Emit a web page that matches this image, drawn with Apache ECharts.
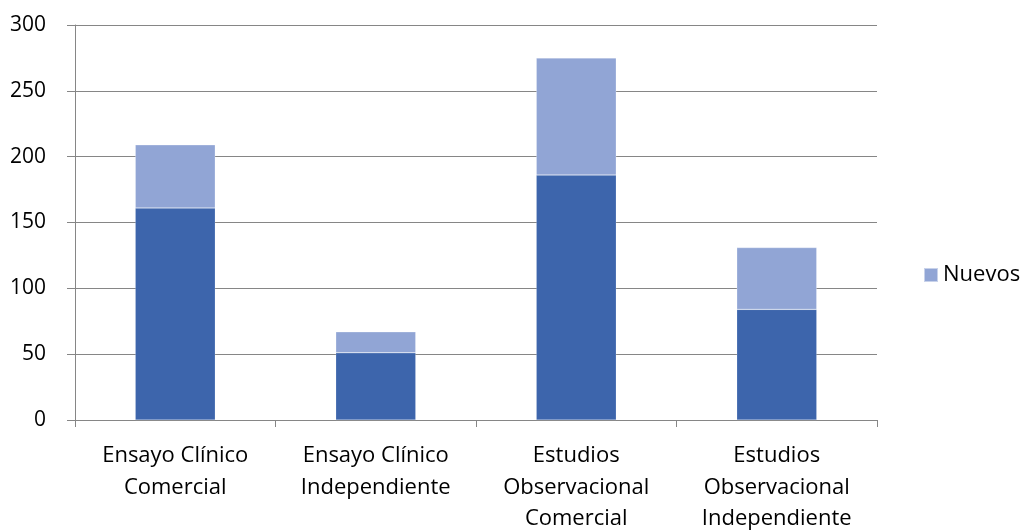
<!DOCTYPE html>
<html><head><meta charset="utf-8">
<script src="https://cdn.jsdelivr.net/npm/echarts@6/dist/echarts.min.js"></script>
<style>html,body{margin:0;padding:0;background:#fff}#c{width:1023px;height:530px}</style>
</head><body><div id="c"></div>
<script>
const categories = ['Ensayo Clínico\nComercial', 'Ensayo Clínico\nIndependiente', 'Estudios\nObservacional\nComercial', 'Estudios\nObservacional\nIndependiente'];
const existentes = [161, 51, 186, 84];
const totales = [209, 67, 275, 131];
const nuevos = totales.map((t, i) => t - existentes[i]);
const yTicks = [0, 50, 100, 150, 200, 250, 300];

const font = '"Open Sans", "Noto Sans", sans-serif';
const chart = echarts.init(document.getElementById('c'));
chart.setOption({
  animation: false,
  grid: { left: 75, right: 146, top: 25, bottom: 110, containLabel: false, outerBoundsMode: 'none' },
  legend: {
    data: ['Nuevos'], orient: 'vertical', left: 918, top: 259,
    itemWidth: 14, itemHeight: 14, itemGap: 6,
    textStyle: { fontFamily: font, fontSize: 22, color: '#000', padding: [0, 0, 0, 0] },
    icon: 'rect'
  },
  xAxis: {
    type: 'category', data: categories,
    axisLine: { lineStyle: { color: '#868686', width: 1 } },
    axisTick: { show: true, length: 7, lineStyle: { color: '#868686' } },
    axisLabel: { fontFamily: font, fontSize: 22, color: '#000', lineHeight: 31.5, margin: 20, interval: 0 }
  },
  yAxis: {
    type: 'value', min: yTicks[0], max: yTicks[yTicks.length - 1], interval: 50,
    axisLine: { show: true, lineStyle: { color: '#868686', width: 1 } },
    axisTick: { show: true, length: 8, lineStyle: { color: '#868686' } },
    axisLabel: { fontFamily: font, fontSize: 21, color: '#000', margin: 29 },
    splitLine: { lineStyle: { color: '#868686', width: 1 } }
  },
  series: [
    { name: 'Existentes', type: 'bar', stack: 's', data: existentes, barWidth: 80,
      itemStyle: { color: '#3D65AC', borderColor: 'rgba(255,255,255,0.35)', borderWidth: 0.5 } },
    { name: 'Nuevos', type: 'bar', stack: 's', data: nuevos, barWidth: 80,
      itemStyle: { color: '#91A5D5', borderColor: 'rgba(255,255,255,0.5)', borderWidth: 0.5 } }
  ]
});
</script></body></html>
